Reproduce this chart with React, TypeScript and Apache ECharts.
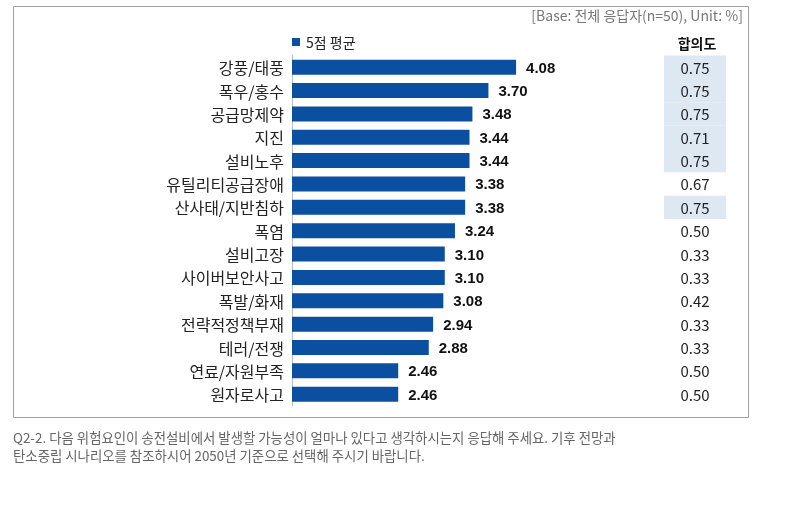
import React, { useEffect, useRef } from "react";
import * as echarts from "echarts";

const categories = [
  "강풍/태풍", "폭우/홍수", "공급망제약", "지진", "설비노후", "유틸리티공급장애", "산사태/지반침하",
  "폭염", "설비고장", "사이버보안사고", "폭발/화재", "전략적정책부재", "테러/전쟁", "연료/자원부족", "원자로사고",
];
const avgScores = [4.08, 3.7, 3.48, 3.44, 3.44, 3.38, 3.38, 3.24, 3.1, 3.1, 3.08, 2.94, 2.88, 2.46, 2.46];
const agreement = ["0.75", "0.75", "0.75", "0.71", "0.75", "0.67", "0.75", "0.50", "0.33", "0.33", "0.42", "0.33", "0.33", "0.50", "0.50"];
const highlighted = [true, true, true, true, true, false, true, false, false, false, false, false, false, false, false];

const seriesName = "5점 평균";
const baseNote = "[Base: 전체 응답자(n=50), Unit: %]";
const agreementHeader = "합의도";
const footnote = [
  "Q2-2. 다음 위험요인이 송전설비에서 발생할 가능성이 얼마나 있다고 생각하시는지 응답해 주세요. 기후 전망과",
  "탄소중립 시나리오를 참조하시어 2050년 기준으로 선택해 주시기 바랍니다.",
];

const FONT = "'Noto Sans CJK KR', 'Noto Sans', sans-serif";

export default function App() {
  const ref = useRef<HTMLDivElement>(null);
  useEffect(() => {
    if (!ref.current) return;
    const chart = echarts.init(ref.current, undefined, { renderer: "svg" });
    chart.setOption({
      animation: false,
      textStyle: { fontFamily: FONT },
      title: {
        text: baseNote,
        right: 45,
        top: 8,
        padding: 0,
        textStyle: { fontSize: 14, fontWeight: "normal", color: "#777", fontFamily: FONT },
      },
      legend: {
        data: [seriesName],
        left: 292,
        top: 35,
        padding: 0,
        icon: "rect",
        itemWidth: 8,
        itemHeight: 8,
        itemGap: 4,
        textStyle: { fontSize: 14, color: "#222", fontFamily: FONT, padding: [0, 0, 0, 1] },
      },
      grid: { left: 292, top: 55.5, width: 291, height: 350.4, containLabel: false },
      xAxis: { type: "value", min: 1, max: 5, show: false },
      yAxis: [
        {
          type: "category",
          data: categories,
          inverse: true,
          axisTick: { show: false },
          axisLine: { show: true, lineStyle: { color: "#bdbdbd", width: 1 } },
          axisLabel: { fontSize: 16, color: "#222", margin: 8, fontFamily: FONT },
        },
        {
          type: "category",
          data: categories,
          inverse: true,
          position: "right",
          axisTick: { show: false },
          axisLine: { show: false },
          axisLabel: {
            margin: 81,
            formatter: (_v: string, i: number) =>
              highlighted[i] ? `{hl|${agreement[i]}}` : `{n|${agreement[i]}}`,
            rich: {
              hl: { backgroundColor: "#dde8f3", width: 62, height: 23.4, align: "center", fontSize: 15, color: "#222", fontFamily: FONT },
              n: { width: 62, height: 23.4, align: "center", fontSize: 15, color: "#222", fontFamily: FONT },
            },
          },
        },
      ],
      series: [
        {
          name: seriesName,
          type: "bar",
          data: avgScores,
          barWidth: 15,
          itemStyle: { color: "#0b4fa0" },
          label: {
            show: true,
            position: "right",
            distance: 10,
            formatter: (p: any) => p.value.toFixed(2),
            fontSize: 15,
            fontWeight: "bold",
            color: "#111",
            fontFamily: "Arial, 'Liberation Sans', sans-serif",
          },
        },
      ],
      graphic: [
        {
          type: "rect",
          shape: { x: 13.5, y: 6.5, width: 735, height: 411 },
          style: { fill: "none", stroke: "#a0a0a0", lineWidth: 1 },
          silent: true,
        },
        {
          type: "text",
          x: 697,
          y: 43,
          style: {
            text: agreementHeader,
            fill: "#111",
            align: "center",
            verticalAlign: "middle",
            font: `bold 14px ${FONT}`,
          },
        },
        ...footnote.map((line, i) => ({
          type: "text",
          x: 13,
          y: 437 + i * 18,
          style: {
            text: line,
            fill: "#666",
            verticalAlign: "middle",
            font: `13.4px ${FONT}`,
          },
        })),
      ],
    });
    return () => chart.dispose();
  }, []);
  return <div ref={ref} style={{ position: "fixed", left: 0, top: 0, width: 788, height: 527 }} />;
}
